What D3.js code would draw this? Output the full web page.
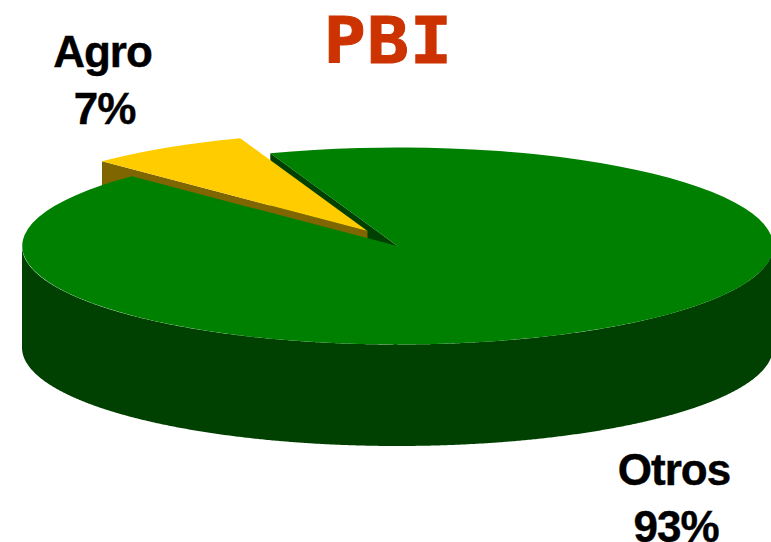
<!DOCTYPE html>
<html>
<head>
<meta charset="utf-8">
<script src="https://cdn.jsdelivr.net/npm/d3@7"></script>
<style>
  html, body { margin: 0; padding: 0; background: #fff; }
  svg { display: block; }
  text { font-family: "Liberation Sans", Arial, sans-serif; font-weight: bold; fill: #000; text-anchor: middle; }
</style>
</head>
<body>
<div id="chart"></div>
<script>
var categories = ['Agro', 'Otros'];
var shares = [7, 93];
var shareLabels = ['7%', '93%'];
var title = 'PBI';

var width = 771, height = 542,
    cx = 397.5, cy = 246, rx = 375.5, ry = 98.5,
    depth = 101.5,
    firstAngle = -45 * Math.PI / 180,
    explode = {dx: -30, dy: -15};

var topColor = ['#ffcc00', '#008000'],
    sideColor = ['#806600', '#004000'];

var svg = d3.select('#chart').append('svg')
    .attr('width', width)
    .attr('height', height);

var slices = d3.pie().sort(null)
    .startAngle(firstAngle)
    .endAngle(firstAngle + 2 * Math.PI)(shares);

var x = d3.scaleLinear().domain([-1, 1]).range([cx - rx, cx + rx]),
    y = d3.scaleLinear().domain([-1, 1]).range([cy - ry, cy + ry]);

var arc = d3.arc().innerRadius(0).outerRadius(1);

// outer wall of a slice, only the part facing the viewer
var wall = d3.area()
    .x(function(a) { return x(Math.sin(a)); })
    .y0(function(a) { return y(-Math.cos(a)); })
    .y1(function(a) { return y(-Math.cos(a)) + depth; });

// flat cut face going from the centre out to the rim at angle a
function cutFace(a) {
  var px = x(Math.sin(a)), py = y(-Math.cos(a));
  return 'M' + cx + ',' + cy + 'L' + px + ',' + py +
         'L' + px + ',' + (py + depth) + 'L' + cx + ',' + (cy + depth) + 'Z';
}

function drawTop(g, d) {
  g.append('path')
    .attr('d', arc(d))
    .attr('transform', 'translate(' + cx + ',' + cy + ') scale(' + rx + ',' + ry + ')')
    .attr('fill', topColor[d.index]);
}

// back to front: cut face of Otros, the pulled out slice, then Otros itself
var agro = slices[0], otros = slices[1];

svg.append('path')
    .attr('d', cutFace(otros.startAngle))
    .attr('fill', sideColor[1]);

var agroG = svg.append('g')
    .attr('transform', 'translate(' + explode.dx + ',' + explode.dy + ')');
agroG.append('path')
    .attr('d', cutFace(agro.startAngle))
    .attr('fill', sideColor[0]);
drawTop(agroG, agro);

var front = d3.range(Math.PI / 2, 3 * Math.PI / 2, 0.005).concat(3 * Math.PI / 2);
svg.append('path')
    .attr('d', wall(front))
    .attr('fill', sideColor[1]);
drawTop(svg.append('g'), otros);

// title glyphs are wider than the mono bold, so stretch and thicken it
svg.append('text')
    .attr('transform', 'translate(388.5,63) scale(1.09,1)')
    .style('font-family', '"DejaVu Sans Mono"')
    .style('font-size', '64px')
    .style('fill', '#cc3300')
    .style('stroke', '#cc3300')
    .style('stroke-width', '1px')
    .style('letter-spacing', '1px')
    .text(title);

var labelPos = [[102.5, 67], [674, 485]];
var labels = svg.selectAll('g.label')
    .data(categories)
    .enter().append('g')
    .attr('class', 'label')
    .attr('transform', function(d, i) { return 'translate(' + labelPos[i] + ')'; })
    .style('font-size', '44px')
    .style('letter-spacing', '-1px')
    .style('stroke', '#000')
    .style('stroke-width', '0.4px');
labels.append('text').text(function(d) { return d; });
labels.append('text').attr('x', 2).attr('y', 57).text(function(d, i) { return shareLabels[i]; });
</script>
</body>
</html>
